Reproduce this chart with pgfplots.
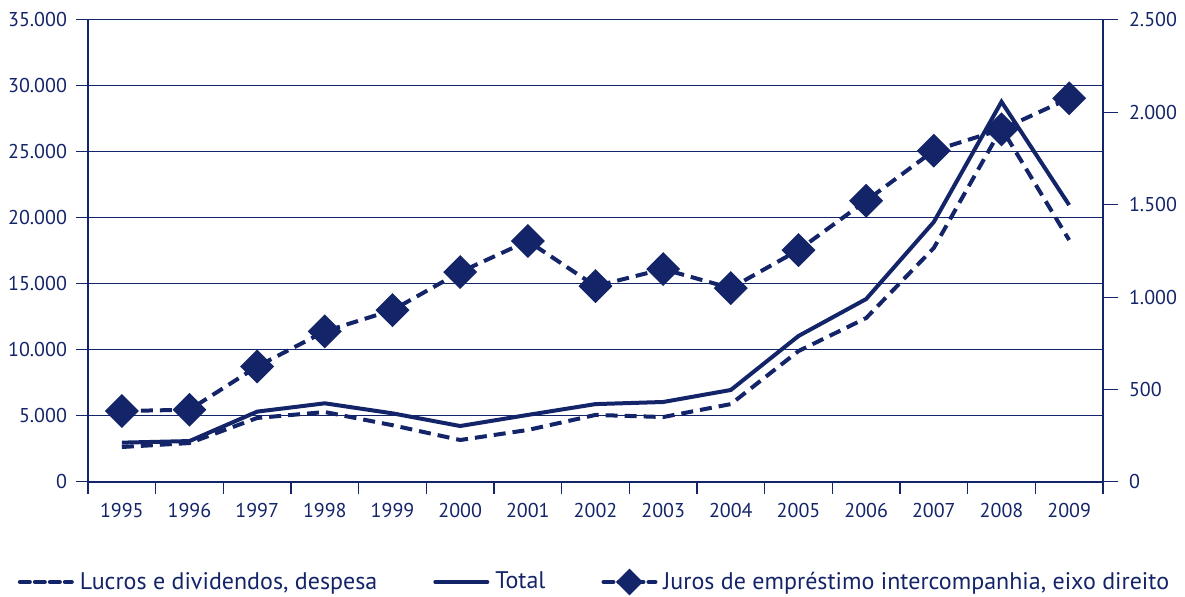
\documentclass[border=0pt]{standalone}
\usepackage{pgfplots}
\pgfplotsset{compat=1.18}
\usepackage{fontspec}
\setmainfont{PT Sans}
\definecolor{navy}{RGB}{20,36,104}

\pgfplotstableread{
x total lucros juros
0  2980  2650  384
1  3100  2950  391
2  5330  4850  625
3  5960  5300  815
4  5200  4300  930
5  4240  3180  1136
6  5080  3940  1304
7  5900  5080  1060
8  6060  4920  1152
9  6970  5900  1049
10 11060 9920  1255
11 13860 12420 1522
12 19700 17730 1793
13 28800 26800 1908
14 20980 18330 2076
}\data

\pgfplotsset{
  lineA/.style={legend image code/.code={\draw[##1] (0pt,0pt) -- (26pt,0pt);}},
  lineC/.style={legend image code/.code={\draw[mark repeat=2, mark phase=2, ##1, every mark/.append style={scale=0.75}, dash pattern=on 5pt off 2.5pt, line cap=round] plot coordinates {(0pt,0pt) (13pt,0pt) (26pt,0pt)};}},
}

\begin{document}
\begin{tikzpicture}
\useasboundingbox (-44pt,-57.5pt) rectangle (548.5pt,241pt);
\pgfplotsset{
  every axis/.append style={
    scale only axis, width=507.5pt, height=231pt,
    xmin=-0.5, xmax=14.5,
    font=\fontsize{10}{12}\selectfont,
    tick label style={text=navy},
    /pgf/number format/assume math mode=true,
    /pgf/number format/1000 sep={.},
    tick align=outside,
    axis line style={draw=navy, line width=1pt},
  },
}
\begin{axis}[
  axis y line*=left, axis x line*=bottom,
  ymin=0, ymax=35000,
  ytick={0,5000,...,35000},
  scaled y ticks=false,
  xtick={-0.5,0.5,...,14.5},
  x tick label as interval=true,
  xticklabels={1995,1996,1997,1998,1999,2000,2001,2002,2003,2004,2005,2006,2007,2008,2009},
  major tick length=6pt,
  ytick style={draw=navy, line width=0.5pt},
  xtick style={draw=navy, line width=0.8pt},
  ymajorgrids,
  y grid style={draw=navy, line width=0.5pt},
  yticklabel style={xshift=-1pt},
  xticklabel style={yshift=-1pt},
]
\addplot[navy, line width=2pt, dash pattern=on 6pt off 3.5pt] table[x=x,y=lucros]{\data};
\addplot[navy, line width=2pt] table[x=x,y=total]{\data};
\end{axis}
\begin{axis}[
  axis y line*=right, axis x line=none,
  ymin=0, ymax=2500,
  ytick={0,500,...,2500},
  major tick length=7.5pt,
  ytick style={draw=navy, line width=0.5pt},
  yticklabel style={xshift=2pt},
  legend columns=3,
  legend style={draw=none, fill=none, at={(0.5,-0.2165)}, anchor=center,
    font=\fontsize{12}{14}\selectfont, text=navy,
    /tikz/every even column/.append style={column sep=26pt},
    /tikz/every odd column/.append style={column sep=1pt}},
  legend cell align=left,
]
\addlegendimage{navy, line width=2pt, dash pattern=on 5pt off 2.5pt, line cap=round, lineA}
\addlegendentry{Lucros e dividendos, despesa}
\addlegendimage{navy, line width=2pt, line cap=round, lineA}
\addlegendentry{Total}
\addplot[navy, line width=2pt, dash pattern=on 6pt off 3.5pt,
  mark=square*, mark size=5pt, mark options={solid, rotate=45, fill=navy}, lineC]
  table[x=x,y=juros]{\data};
\addlegendentry{Juros de empréstimo intercompanhia, eixo direito}
\end{axis}
\end{tikzpicture}
\end{document}
